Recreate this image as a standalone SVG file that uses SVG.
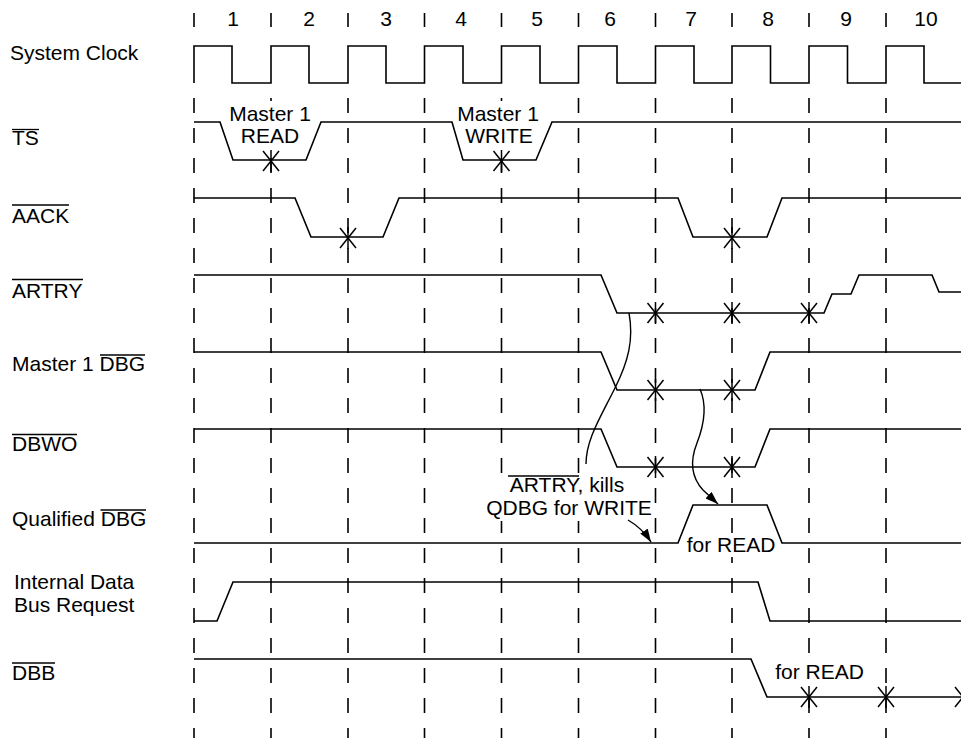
<svg xmlns="http://www.w3.org/2000/svg" xmlns:xlink="http://www.w3.org/1999/xlink" width="961" height="738" viewBox="0 0 961 738">
<style>
.wave{fill:none;stroke:#000;stroke-width:1.6;stroke-linejoin:miter}
.grid{stroke:#000;stroke-width:1.6;stroke-dasharray:15 15}
.tick{stroke:#000;stroke-width:1.6}
.ov{stroke:#000;stroke-width:1.3}
.lbl{font-family:"Liberation Sans",Arial,sans-serif;font-size:21px;fill:#000}
.mid{text-anchor:middle}
.bg{fill:#fff}
.conn{fill:none;stroke:#000;stroke-width:1.4}
</style>
<defs>
<g id="xm" stroke="#000" stroke-width="1.5" fill="none">
<line x1="-8" y1="-10" x2="8" y2="10"/>
<line x1="-8" y1="10" x2="8" y2="-10"/>
<line x1="0" y1="-11" x2="0" y2="11"/>
</g>
<marker id="ah" markerWidth="13" markerHeight="9" refX="13" refY="4.5" orient="auto" markerUnits="userSpaceOnUse">
<path d="M0,0 L13,4.5 L0,9 z" fill="#000"/>
</marker>
</defs>
<rect width="961" height="738" fill="#fff"/>

<g id="grid">
<g class="tick">
<line x1="194" y1="13" x2="194" y2="27"/><line x1="271" y1="13" x2="271" y2="27"/><line x1="348" y1="13" x2="348" y2="27"/><line x1="424.5" y1="13" x2="424.5" y2="27"/><line x1="501.5" y1="13" x2="501.5" y2="27"/><line x1="578.5" y1="13" x2="578.5" y2="27"/><line x1="655.5" y1="13" x2="655.5" y2="27"/><line x1="732" y1="13" x2="732" y2="27"/><line x1="809" y1="13" x2="809" y2="27"/><line x1="886" y1="13" x2="886" y2="27"/>
</g>
<g class="grid">
<line x1="194" y1="98" x2="194" y2="738"/><line x1="271" y1="98" x2="271" y2="738"/><line x1="348" y1="98" x2="348" y2="738"/><line x1="424.5" y1="98" x2="424.5" y2="738"/><line x1="501.5" y1="98" x2="501.5" y2="738"/><line x1="578.5" y1="98" x2="578.5" y2="738"/><line x1="655.5" y1="98" x2="655.5" y2="738"/><line x1="732" y1="98" x2="732" y2="738"/><line x1="809" y1="98" x2="809" y2="738"/><line x1="886" y1="98" x2="886" y2="738"/>
</g>
<g class="lbl mid">
<text x="233" y="26">1</text><text x="309" y="26">2</text><text x="386" y="26">3</text><text x="461" y="26">4</text><text x="537" y="26">5</text><text x="610" y="26">6</text><text x="691" y="26">7</text><text x="768" y="26">8</text><text x="846" y="26">9</text><text x="926" y="26">10</text>
</g>
</g>

<g id="label-backgrounds">
<rect class="bg" x="227" y="101" width="86" height="47"/>
<rect class="bg" x="450" y="101" width="94" height="47"/>
<rect class="bg" x="484" y="473" width="169" height="48"/>
<rect class="bg" x="684" y="534" width="94" height="23"/>
<rect class="bg" x="773" y="662" width="94" height="22"/>
</g>

<g id="sysclk">
<text class="lbl" x="10" y="60">System Clock</text>
<path class="wave" d="M194,83 V46 H232 V83 H271 V46 H309 V83 H348 V46 H386 V83 H424.5 V46 H463 V83 H501.5 V46 H540 V83 H578.5 V46 H617 V83 H655.5 V46 H694 V83 H732 V46 H770.5 V83 H809 V46 H847.5 V83 H886 V46 H924 V83 H961"/>
</g>

<g id="ts">
<text class="lbl" x="12" y="145">TS</text>
<line class="ov" x1="12" y1="129.5" x2="39" y2="129.5"/>
<path class="wave" d="M194,122 H220 L233,160 H306 L321,122 H452 L463,160 H536 L552,122 H961"/>
<use xlink:href="#xm" x="271" y="161"/>
<use xlink:href="#xm" x="501.5" y="161"/>
<text class="lbl mid" x="270" y="121">Master 1</text>
<text class="lbl mid" x="270" y="142.5">READ</text>
<text class="lbl mid" x="498" y="121">Master 1</text>
<text class="lbl mid" x="499" y="142.5">WRITE</text>
</g>

<g id="aack">
<text class="lbl" x="12" y="223">AACK</text>
<line class="ov" x1="12" y1="205" x2="69" y2="205"/>
<path class="wave" d="M194,198 H295 L311,237 H383 L399,198 H678 L693,237 H767 L782,198 H961"/>
<use xlink:href="#xm" x="348" y="238"/>
<use xlink:href="#xm" x="732" y="238"/>
</g>

<g id="artry">
<text class="lbl" x="12" y="298">ARTRY</text>
<line class="ov" x1="12" y1="279.5" x2="83" y2="279.5"/>
<path class="wave" d="M194,275 H601 L617,313 H824 L832,294 H851 L859,275 H932 L939,292 H961"/>
<use xlink:href="#xm" x="655.5" y="313"/>
<use xlink:href="#xm" x="732" y="313"/>
<use xlink:href="#xm" x="809" y="313"/>
</g>

<g id="dbg">
<text class="lbl" x="12" y="371">Master 1 DBG</text>
<line class="ov" x1="100" y1="355" x2="145" y2="355"/>
<path class="wave" d="M194,352 H601 L617,390 H755 L770,352 H961"/>
<use xlink:href="#xm" x="655.5" y="390"/>
<use xlink:href="#xm" x="732" y="390"/>
</g>

<g id="dbwo">
<text class="lbl" x="12" y="451">DBWO</text>
<line class="ov" x1="12" y1="434.5" x2="77" y2="434.5"/>
<path class="wave" d="M194,429 H601 L617,467 H755 L770,429 H961"/>
<use xlink:href="#xm" x="655.5" y="467"/>
<use xlink:href="#xm" x="732" y="467"/>
</g>

<g id="qdbg">
<text class="lbl" x="12" y="526">Qualified DBG</text>
<line class="ov" x1="100.5" y1="510" x2="146" y2="510"/>
<path class="wave" d="M194,543 H678 L693,505 H767 L782,543 H961"/>
<text class="lbl mid" x="731" y="552">for READ</text>
<text class="lbl mid" x="567" y="492">ARTRY, kills</text>
<line class="ov" x1="508" y1="476" x2="579" y2="476"/>
<text class="lbl mid" x="569" y="515">QDBG for WRITE</text>
</g>

<g id="idbr">
<text class="lbl" x="14" y="589">Internal Data</text>
<text class="lbl" x="14" y="612">Bus Request</text>
<path class="wave" d="M194,621 H217 L233,582 H758 L770,621 H961"/>
</g>

<g id="dbb">
<text class="lbl" x="12" y="680">DBB</text>
<line class="ov" x1="12" y1="663" x2="55" y2="663"/>
<path class="wave" d="M194,659 H751 L767,697 H961"/>
<use xlink:href="#xm" x="809" y="697"/>
<use xlink:href="#xm" x="886" y="697"/>
<use xlink:href="#xm" x="963" y="697"/>
<text class="lbl mid" x="819.5" y="679">for READ</text>
</g>

<g id="connectors">
<path class="conn" d="M629,313 C634,340 628,362 615,388 C600,418 586,440 586,464"/>
<path class="conn" marker-end="url(#ah)" d="M700,389 C707,405 704,425 697,443 C689,463 692,478 703,490 L718,504"/>
<path class="conn" marker-end="url(#ah)" d="M628,520 Q642,528 651,542"/>
</g>
</svg>
